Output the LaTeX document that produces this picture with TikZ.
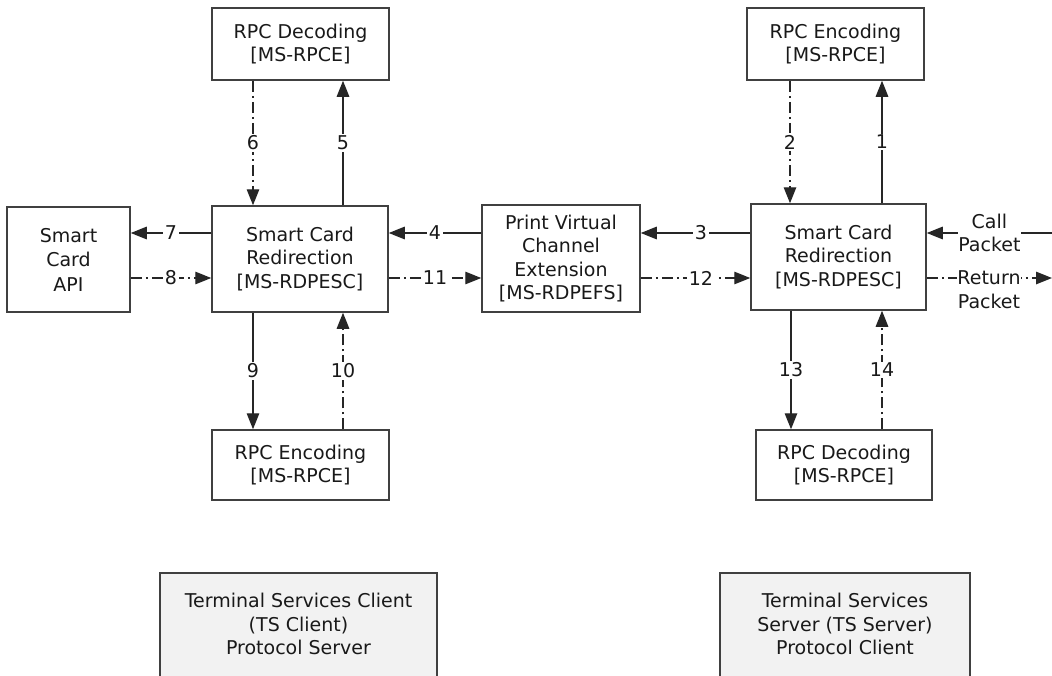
\documentclass[tikz,border=0pt]{standalone}
\usepackage{fontspec}
\setmainfont{DejaVu Sans}
\usetikzlibrary{arrows.meta}
\begin{document}
\begin{tikzpicture}[x=1pt,y=-1pt,
  txt/.style={text=black!90, font=\fontsize{19}{23.5}\selectfont},
  box/.style={txt, draw=black!75, line width=1.5pt, fill=white, align=center, inner sep=0pt},
  gbox/.style={box, fill=black!5},
  ln/.style={draw=black!85, line width=1.4pt},
  arr/.style={ln, -{Triangle[length=16pt,width=12.5pt]}},
  dd/.style={dash pattern=on 11pt off 4pt on 2pt off 4pt},
  lab/.style={txt, fill=white, inner sep=1.5pt},
]
\useasboundingbox (0,0) rectangle (1052,675);
\clip (0,0) rectangle (1052,675);

% boxes
\node[box, minimum width=177pt, minimum height=72pt] (rpcdecL) at (300.5,44) {RPC Decoding\\{[MS-RPCE]}};
\node[box, minimum width=177pt, minimum height=72pt] (rpcencR) at (835.5,44) {RPC Encoding\\{[MS-RPCE]}};
\node[box, minimum width=123pt, minimum height=105pt, font=\fontsize{19}{24.5}\selectfont] (api) at (68.5,259.5) {Smart\\Card\\API};
\node[box, minimum width=176pt, minimum height=106pt] (scrL) at (300,259) {Smart Card\\Redirection\\{[MS-RDPESC]}};
\node[box, minimum width=158pt, minimum height=107pt] (pvc) at (561,258.5) {Print Virtual\\Channel\\Extension\\{[MS-RDPEFS]}};
\node[box, minimum width=175pt, minimum height=106pt] (scrR) at (838.5,257) {Smart Card\\Redirection\\{[MS-RDPESC]}};
\node[box, minimum width=177pt, minimum height=70pt] (rpcencL) at (300.5,465) {RPC Encoding\\{[MS-RPCE]}};
\node[box, minimum width=176pt, minimum height=70pt] (rpcdecR) at (844,465) {RPC Decoding\\{[MS-RPCE]}};

\node[gbox, minimum width=277pt, minimum height=130pt, anchor=north] (tsc) at (298.5,572) {};
\node[txt, align=center] (tsct) at (298.5,624) {Terminal Services Client\\(TS Client)\\Protocol Server};
\node[gbox, minimum width=250pt, minimum height=130pt, anchor=north] (tss) at (845,572) {};
\node[txt, align=center] (tsst) at (845,624) {Terminal Services\\Server (TS Server)\\Protocol Client};

% helper coordinates
\coordinate (xa) at (253,0);
\coordinate (xb) at (343,0);
\coordinate (xc) at (790,0);
\coordinate (xe) at (791,0);
\coordinate (xd) at (882,0);
\coordinate (ya) at (0,233);
\coordinate (yb) at (0,278);
\coordinate (rin) at (1052,233);
\coordinate (rout) at (1052,278);

% vertical connectors, top
\draw[arr,dd] (rpcdecL.south -| xa) -- node[lab]{6} (scrL.north -| xa);
\draw[arr] (scrL.north -| xb) -- node[lab]{5} (rpcdecL.south -| xb);
\draw[arr,dd] (rpcencR.south -| xc) -- node[lab]{2} (scrR.north -| xc);
\draw[arr] (scrR.north -| xd) -- node[lab]{1} (rpcencR.south -| xd);

% horizontal connectors
\draw[arr] (scrL.west |- ya) -- node[lab]{7} (api.east |- ya);
\draw[arr,dd] (api.east |- yb) -- node[lab]{8} (scrL.west |- yb);
\draw[arr] (pvc.west |- ya) -- node[lab]{4} (scrL.east |- ya);
\draw[arr,dd] (scrL.east |- yb) -- node[lab]{11} (pvc.west |- yb);
\draw[arr] (scrR.west |- ya) -- node[lab, pos=0.45]{3} (pvc.east |- ya);
\draw[arr,dd] (pvc.east |- yb) -- node[lab, pos=0.55]{12} (scrR.west |- yb);
\draw[arr] (rin) -- node[lab, align=center, inner sep=0.5pt]{Call\\Packet} (scrR.east |- ya);
\draw[arr,dd] (scrR.east |- yb) -- (rout);
\node[lab, align=center, inner sep=0.5pt] (retlab) at (989,289.5) {Return\\Packet};

% vertical connectors, bottom
\draw[arr] (scrL.south -| xa) -- node[lab]{9} (rpcencL.north -| xa);
\draw[arr,dd] (rpcencL.north -| xb) -- node[lab]{10} (scrL.south -| xb);
\draw[arr] (scrR.south -| xe) -- node[lab]{13} (rpcdecR.north -| xe);
\draw[arr,dd] (rpcdecR.north -| xd) -- node[lab]{14} (scrR.south -| xd);
\end{tikzpicture}
\end{document}
